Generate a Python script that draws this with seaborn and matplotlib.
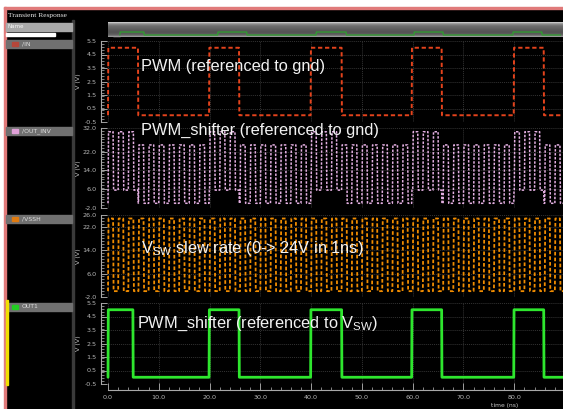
import numpy as np
import pandas as pd
import seaborn as sns
import matplotlib.pyplot as plt
from matplotlib.patches import Rectangle
from matplotlib.ticker import MultipleLocator, FixedLocator, FormatStrFormatter

W, H = 563, 409

# values (time in ns, voltage in V)
in_rise = [0.0, 19.9, 39.9, 59.8, 79.9]
in_fall = [5.9, 25.8, 46.0, 65.7, 85.8]
in_levels = [0.0, 5.0]

out1_rise = [0.0, 19.9, 39.9, 59.8, 79.9]
out1_fall = [4.9, 25.8, 46.0, 65.7, 85.8]
out1_levels = [0.0, 5.0]

vssh_rise = [0.0, 2.0, 4.0, 6.0, 8.0, 10.0, 12.0, 14.0, 16.0, 18.0,
             20.0, 22.0, 24.0, 26.0, 28.0, 30.0, 32.0, 34.0, 36.0, 38.0,
             40.0, 42.0, 44.0, 46.0, 48.0, 50.0, 52.0, 54.0, 56.0, 58.0,
             60.0, 62.0, 64.0, 66.0, 68.0, 70.0, 72.0, 74.0, 76.0, 78.0,
             80.0, 82.0, 84.0, 86.0, 88.0]
vssh_width = 1.0
vssh_levels = [0.0, 24.8]

# /OUT_INV rides on /VSSH, lifted by this much while /IN is high
out_inv_lift = 5.6

panel_names = ['/IN', '/OUT_INV', '/VSSH', 'OUT1']
panel_colors = ['#e4431c', '#e2aee0', '#f08c00', '#2ee62e']
name_swatch = ['#b5473a', '#e0a0d8', '#e07b10', '#22cc22']
panel_ylims = [(-0.5, 5.5), (-2.0, 32.0), (-2.0, 26.0), (-0.5, 5.5)]
panel_yticks = [[5.5, 4.5, 3.5, 2.5, 1.5, 0.5, -0.5],
                [32.0, 22.0, 14.0, 6.0, -2.0],
                [26.0, 22.0, 14.0, 6.0, -2.0],
                [5.5, 4.5, 3.5, 2.5, 1.5, 0.5, -0.5]]
notes = ['PWM (referenced to gnd)',
         'PWM_shifter (referenced to gnd)',
         r'V$_{\mathrm{SW}}$ slew rate (0-> 24V in 1ns)',
         r'PWM_shifter (referenced to V$_{\mathrm{SW}}$)']
t_end = 89.6


def pulses(rises, falls, lo, hi, edge=0.06):
    t, v = [0.0], [lo]
    for r, f in zip(rises, falls):
        t += [r, r + edge, f, f + edge]
        v += [lo, hi, hi, lo]
    t.append(t_end)
    v.append(lo)
    return pd.DataFrame({'t': t, 'v': v})


df_in = pulses(in_rise, in_fall, *in_levels)
df_out1 = pulses(out1_rise, out1_fall, *out1_levels)
df_vssh = pulses(vssh_rise, [r + vssh_width for r in vssh_rise], *vssh_levels, edge=0.1)

tt = np.unique(np.concatenate([df_vssh['t'], df_in['t']]))
lift = np.interp(tt, df_in['t'], df_in['v']) / in_levels[1] * out_inv_lift
df_inv = pd.DataFrame({'t': tt, 'v': np.interp(tt, df_vssh['t'], df_vssh['v']) + lift})

frames = [df_in, df_inv, df_vssh, df_out1]
styles = [(0, (2.2, 1.4)), (0, (1.6, 1.0)), (0, (2.0, 1.2)), '-']
widths = [1.4, 1.1, 1.3, 2.0]

sns.set_style('dark')
plt.rcParams['font.family'] = ['DejaVu Sans']
plt.rcParams['mathtext.fontset'] = 'custom'
plt.rcParams['mathtext.rm'] = 'Liberation Sans'

fig = plt.figure(figsize=(W / 100, H / 100), dpi=100, facecolor='black')


def px_axes(x0, y0, x1, y1, **kw):
    return fig.add_axes([x0 / W, 1 - y1 / H, (x1 - x0) / W, (y1 - y0) / H], **kw)


def px_overlay():
    a = px_axes(0, 0, W, H)
    a.set_xlim(0, W)
    a.set_ylim(H, 0)
    a.axis('off')
    a.patch.set_alpha(0)
    return a


# window chrome in pixel coordinates
bg = px_overlay()
bg.add_patch(Rectangle((0, 0), W, 7, color='white'))
bg.add_patch(Rectangle((0, 0), 4, H, color='white'))
bg.add_patch(Rectangle((4, 7), W, 1.5, color='#e07a7a'))
bg.add_patch(Rectangle((4, 7), 1.5, H, color='#e07a7a'))
bg.add_patch(Rectangle((72, 20), 1.5, H, color='#3a3a3a'))
bg.text(8, 16, 'Transient Response', color='#e8e8e8', fontsize=5.4,
        family='Liberation Serif', va='center')
bg.add_patch(Rectangle((6, 23), 66, 8, color='#a9a9a9'))
bg.text(8, 27, 'Name', color='#f4f4f4', fontsize=4.0, va='center')
bg.add_patch(Rectangle((6, 33), 49, 2.5, color='white'))
row_tops = [40, 127, 215, 303]
for top, name, sw in zip(row_tops, panel_names, name_swatch):
    bg.add_patch(Rectangle((6, top), 66, 8, color='#707070'))
    bg.add_patch(Rectangle((12, top + 2), 6, 4, color=sw))
    bg.text(22, top + 4, name, color='#dcdcdc', fontsize=4.4, va='center')
bg.add_patch(Rectangle((6, 300), 1.5, 85, color='#f0e000'))

# overview scrollbar
sb = px_axes(108, 22, W, 37)
sb_t0, sb_t1 = -2.4, 90.1
grad = np.array([0.78, 0.62, 0.52, 0.46, 0.42, 0.4, 0.38, 0.36, 0.34, 0.33,
                 0.33, 0.35, 0.38, 0.46, 0.6])
sb.imshow(grad[:, None], cmap='gray', vmin=0, vmax=1, aspect='auto',
          extent=[sb_t0, sb_t1, -3.3, 21.7])
sns.lineplot(data=df_out1, x='t', y='v', ax=sb, color='#2fa02f', lw=0.9,
             estimator=None, sort=False)
sb.set_xlim(sb_t0, sb_t1)
sb.set_ylim(-3.3, 21.7)
sb.axis('off')
bg.add_patch(Rectangle((113, 23), 7, 13, color='#d0d0d0'))
bg.add_patch(Rectangle((110, 28), 2, 2, color='#e02020'))

# waveform panels
panel_px = [(41, 122), (128, 208), (215, 297), (303, 384)]
note_pos = [(141, 67), (141, 130), (141, 248), (137, 324)]
for i, (y0, y1) in enumerate(panel_px):
    ax = px_axes(101, y0, W, y1)
    ax.set_facecolor('black')
    sns.lineplot(data=frames[i], x='t', y='v', ax=ax, color=panel_colors[i],
                 linestyle=styles[i], lw=widths[i], estimator=None, sort=False)
    ax.set_xlim(-1.38, t_end)
    ax.set_ylim(*panel_ylims[i])
    ax.yaxis.set_major_locator(FixedLocator(panel_yticks[i]))
    ax.yaxis.set_major_formatter(FormatStrFormatter('%.1f'))
    ax.yaxis.set_minor_locator(FixedLocator(
        np.linspace(panel_ylims[i][0], panel_ylims[i][1], 29)))
    ax.xaxis.set_major_locator(MultipleLocator(10))
    ax.xaxis.set_minor_locator(MultipleLocator(2))
    ax.xaxis.set_major_formatter(FormatStrFormatter('%.1f'))
    ax.grid(True, which='major', color='#333333', linestyle=(0, (1, 1)), lw=0.7)
    ax.set_ylabel('V (V)', color='#c8c8c8', fontsize=4.6)
    ax.yaxis.set_label_coords(-0.043, 0.5)
    ax.tick_params(axis='y', which='both', direction='in', colors='#b8b8b8',
                   labelsize=4.6, pad=3, left=True)
    ax.tick_params(axis='y', which='major', length=4, width=0.6)
    ax.tick_params(axis='y', which='minor', length=2, width=0.5)
    for s in ['top', 'right']:
        ax.spines[s].set_visible(False)
    ax.spines['left'].set_color('#a8a8a8')
    ax.spines['left'].set_linewidth(0.8)
    if i < 3:
        ax.spines['bottom'].set_visible(False)
        ax.tick_params(axis='x', which='both', bottom=False, labelbottom=False)
        ax.set_xlabel('')
    else:
        ax.spines['bottom'].set_position(('outward', 4))
        ax.spines['bottom'].set_bounds(0, t_end)
        ax.spines['bottom'].set_color('#a8a8a8')
        ax.tick_params(axis='x', which='both', direction='in', colors='#b8b8b8',
                       labelsize=4.6, pad=4, bottom=True)
        ax.tick_params(axis='x', which='major', length=5, width=0.6)
        ax.tick_params(axis='x', which='minor', length=2.5, width=0.5)
        ax.set_xlabel('')

# annotations drawn over the waveforms
top = px_overlay()
for (nx, ny), note in zip(note_pos, notes):
    top.text(nx, ny, note, color='#f2f2f2', fontsize=11.8,
             family='Liberation Sans', va='center', ha='left')
top.text(505, 405.5, 'time (ns)', color='#c8c8c8', fontsize=4.3,
         ha='center', va='center')

fig.savefig('out.png', dpi=100, facecolor='black')
